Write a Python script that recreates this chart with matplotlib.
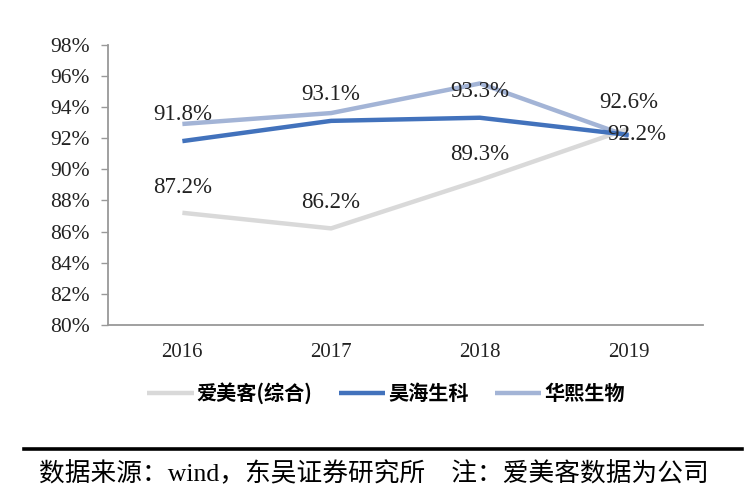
import matplotlib
matplotlib.use("Agg")
import matplotlib.pyplot as plt
from matplotlib.ticker import FuncFormatter

years = ["2016", "2017", "2018", "2019"]
aimeike = [87.2, 86.2, 89.3, 92.6]
haohai = [91.8, 93.1, 93.3, 92.2]
huaxi = [92.9, 93.6, 95.5, 92.1]
names = ["爱美客(综合)", "昊海生科", "华熙生物"]
yticks = [80, 82, 84, 86, 88, 90, 92, 94, 96, 98]
footer = "数据来源：wind，东吴证券研究所    注：爱美客数据为公司"

serif = ["Liberation Serif", "Noto Sans CJK SC"]
cjk = ["Noto Sans CJK SC", "DejaVu Sans"]

fig = plt.figure(figsize=(7.54, 4.93), dpi=100)
ax = fig.add_axes([108/754, 1-325/493, 595/754, (325-44.5)/493])

x = list(range(len(years)))
c_gray = "#D9D9D9"
c_dark = "#4272BC"
c_light = "#A3B4D6"
l1, = ax.plot(x, aimeike, color=c_gray, lw=3.2, solid_capstyle="butt", zorder=2)
l3, = ax.plot(x, huaxi, color=c_light, lw=3.2, solid_capstyle="butt", zorder=3)
l2, = ax.plot(x, haohai, color=c_dark, lw=3.2, solid_capstyle="butt", zorder=4)

ax.set_xlim(-0.5, 3.5)
ax.set_ylim(80, 98)
ax.set_yticks(yticks)
ax.yaxis.set_major_formatter(FuncFormatter(lambda v, p: f"{v:.0f}%"))
ax.set_xticks(x)
ax.set_xticklabels(years)
for lab in ax.get_yticklabels():
    lab.set_family(serif)
    lab.set_fontsize(15.5)
    lab.set_color("#222222")
for lab in ax.get_xticklabels():
    lab.set_family(serif)
    lab.set_fontsize(15)
    lab.set_color("#222222")
ax.tick_params(axis="y", length=5, color="#999999", width=1, pad=8)
ax.tick_params(axis="x", length=0, pad=13)
for s in ["top", "right"]:
    ax.spines[s].set_visible(False)
for s in ["left", "bottom"]:
    ax.spines[s].set_color("#999999")
    ax.spines[s].set_linewidth(1.3)

lbl = dict(textcoords="offset points", ha="center", va="center", fontsize=16.5,
           family=serif, color="#222222", zorder=6)
for i, v in enumerate(aimeike):
    ax.annotate(f"{v}%", (i, v), xytext=(0, 18.5), **lbl)
for i, v in enumerate(haohai):
    if i == 3:
        ax.annotate(f"{v}%", (i, v), xytext=(6, 0), **lbl)
    else:
        ax.annotate(f"{v}%", (i, v), xytext=(0, 19), **lbl)

leg = fig.legend([l1, l2, l3], names, loc="center", bbox_to_anchor=(386/754, 1-393/493),
                 ncol=3, frameon=False, handlelength=2.3, handletextpad=0.15,
                 columnspacing=1.3, prop={"family": cjk, "size": 14.5, "weight": "bold"})

fig.add_artist(plt.Line2D([24/754, 742/754], [1-449/493, 1-449/493], color="black", lw=2.6,
                          transform=fig.transFigure))
fig.text(39/754, 1-474/493, footer, ha="left", va="center", fontsize=18.5, family=serif, color="black")

fig.savefig("out.png", dpi=100)
